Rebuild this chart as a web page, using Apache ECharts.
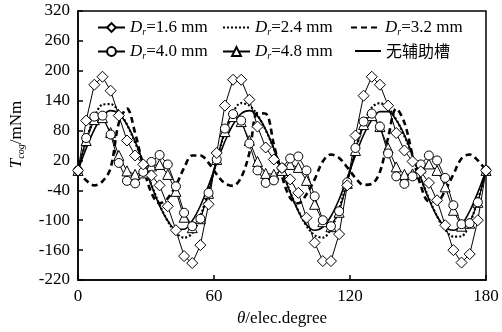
<!DOCTYPE html>
<html>
<head>
<meta charset="utf-8">
<script src="https://cdn.jsdelivr.net/npm/echarts@6/dist/echarts.min.js"></script>
<style>
  html, body { margin: 0; padding: 0; background: #fff; }
  #chart { width: 502px; height: 332px; }
</style>
</head>
<body>
<div id="chart"></div>
<script>
// electrical angle of each sample (deg)
const angle = [0, 3.6, 7.2, 10.8, 14.4, 18, 21.6, 25.2, 28.8, 32.4, 36, 39.6, 43.2, 46.8, 50.4, 54, 57.6,
  61.2, 64.8, 68.4, 72, 75.6, 79.2, 82.8, 86.4, 90, 93.6, 97.2, 100.8, 104.4, 108, 111.6, 115.2, 118.8,
  122.4, 126, 129.6, 133.2, 136.8, 140.4, 144, 147.6, 151.2, 154.8, 158.4, 162, 165.6, 169.2, 172.8, 176.4, 180]

// cogging torque, mNm
const dr16 = [0, 100, 172, 188, 160, 110, 60, 30, 12, -10, -30, -72, -120, -172, -186, -150, -68,
  35, 130, 182, 182, 142, 88, 46, 22, 5, -18, -45, -95, -145, -182, -182, -128, -30,
  70, 150, 188, 172, 130, 75, 40, 18, -2, -25, -60, -110, -160, -185, -168, -100, 0]
const dr24 = [0, 59, 106, 132, 133, 119, 92, 56, 15, -29, -69, -102, -125, -135, -126, -92, -40,
  20, 77, 117, 135, 130, 111, 81, 43, 0, -43, -81, -111, -130, -135, -117, -77, -20,
  40, 92, 126, 135, 125, 102, 69, 29, -15, -56, -92, -119, -133, -132, -106, -59, 0]
const dr32 = [0, -20, -30, -22, 5, 95, 124, 75, 8, -45, -66, -56, -30, 5, 30, 30, 15,
  -8, -26, -31, -14, 35, 115, 114, 52, -12, -55, -66, -48, -18, 18, 32, 25, 6,
  -15, -29, -27, -3, 65, 124, 96, 30, -30, -62, -62, -40, -8, 24, 32, 20, 0]
const dr40 = [0, 65, 108, 110, 72, 15, -21, -26, -3, 17, 31, 12, -32, -85, -112, -97, -45,
  22, 84, 113, 100, 54, 0, -25, -20, 5, 24, 28, 0, -52, -100, -112, -82, -24,
  45, 98, 114, 88, 34, -12, -27, -12, 12, 30, 20, -15, -70, -108, -106, -64, 0]
const dr48 = [0, 60, 102, 106, 76, 30, -1, -8, -5, 9, 12, -8, -42, -94, -115, -97, -46,
  22, 78, 108, 98, 60, 18, -6, -8, 0, 12, 6, -20, -68, -103, -113, -84, -26,
  40, 92, 110, 88, 45, 7, -8, -7, 5, 13, 0, -33, -80, -112, -106, -64, 0]
const noSlot = [0, 44, 82, 109, 120, 114, 92, 58, 15, -30, -71, -101, -118, -118, -101, -71, -30,
  15, 58, 92, 114, 120, 109, 82, 44, 0, -44, -82, -109, -120, -114, -92, -58, -15,
  30, 71, 101, 118, 118, 101, 71, 30, -15, -58, -92, -114, -120, -109, -82, -44, 0]

const xTicks = { min: 0, max: 180, step: 60 }
const yTicks = { min: -220, max: 320, step: 60 }

const serif = '"Liberation Serif", "DejaVu Serif", serif'
const cjk = '"Noto Sans CJK SC", sans-serif'
const pair = (values) => angle.map((a, i) => [a, values[i]])

const rich = {
  i: { fontFamily: serif, fontStyle: 'italic', fontSize: 17, color: '#000' },
  s: { fontFamily: serif, fontStyle: 'italic', fontSize: 10, color: '#000', padding: [9, 0, 0, 0] },
  n: { fontFamily: serif, fontSize: 17, color: '#000' },
  c: { fontFamily: cjk, fontSize: 16, color: '#000' },
}

const markerSeries = (name, values, symbol, size) => ({
  name,
  type: 'line',
  data: pair(values),
  symbol,
  symbolSize: size,
  showAllSymbol: true,
  lineStyle: { color: '#000', width: 1 },
  itemStyle: { color: '#fff', borderColor: '#000', borderWidth: 1 },
  emphasis: { disabled: true },
  z: 3,
})

const curveSeries = (name, values, type, width) => ({
  name,
  type: 'line',
  data: pair(values),
  smooth: 0.35,
  symbol: 'none',
  lineStyle: { color: '#000', width, type },
  itemStyle: { color: '#000' },
  emphasis: { disabled: true },
  z: 2,
})

const legendAt = (name, left, top, width, plain) => ({
  data: [name],
  left,
  top,
  padding: 0,
  itemWidth: width,
  itemHeight: 11,
  itemGap: 0,
  selectedMode: false,
  itemStyle: plain ? { opacity: 0 } : {},
  formatter: (n) => (n === '无辅助槽' ? '{c|无辅助槽}' : '{i|D}{s|r}{n|=' + n + ' mm}'),
  textStyle: { rich },
})

const chart = echarts.init(document.getElementById('chart'), null, { renderer: 'canvas' })

chart.setOption({
  animation: false,
  backgroundColor: '#fff',
  grid: { left: 76, right: 16, top: 11, bottom: 51, show: true, borderColor: '#000', borderWidth: 1.5 },
  legend: [
    legendAt('1.6', 97, 19, 27),
    legendAt('2.4', 222, 19, 27, true),
    legendAt('3.2', 350, 19, 29, true),
    legendAt('4.0', 97, 43, 27),
    legendAt('4.8', 222, 43, 27),
    legendAt('无辅助槽', 354, 43, 26, true),
  ],
  xAxis: {
    type: 'value',
    min: xTicks.min,
    max: xTicks.max,
    interval: xTicks.step,
    name: '{i|θ}{n|/elec.degree}',
    nameLocation: 'middle',
    nameGap: 30,
    nameTextStyle: { rich },
    axisLine: { onZero: false, lineStyle: { color: '#000', width: 1.5 } },
    axisTick: { inside: true, length: 5, lineStyle: { color: '#000', width: 1.5 } },
    axisLabel: { color: '#000', fontFamily: serif, fontSize: 17, margin: 8 },
    splitLine: { show: false },
  },
  yAxis: {
    type: 'value',
    min: yTicks.min,
    max: yTicks.max,
    interval: yTicks.step,
    name: '{i|T}{s|cog}{n|/mNm}',
    nameLocation: 'middle',
    nameGap: 52,
    nameTextStyle: { rich, padding: [0, 0, 0, 22] },
    axisLine: { onZero: false, lineStyle: { color: '#000', width: 1.5 } },
    axisTick: { inside: true, length: 5, lineStyle: { color: '#000', width: 1.5 } },
    axisLabel: { color: '#000', fontFamily: serif, fontSize: 17, margin: 8 },
    splitLine: { show: false },
  },
  series: [
    curveSeries('无辅助槽', noSlot, 'solid', 1.6),
    curveSeries('2.4', dr24, [2, 2], 2.2),
    curveSeries('3.2', dr32, [6, 4], 2.6),
    markerSeries('4.8', dr48, 'triangle', 10),
    markerSeries('4.0', dr40, 'circle', 9),
    markerSeries('1.6', dr16, 'diamond', 11),
  ],
})
</script>
</body>
</html>
